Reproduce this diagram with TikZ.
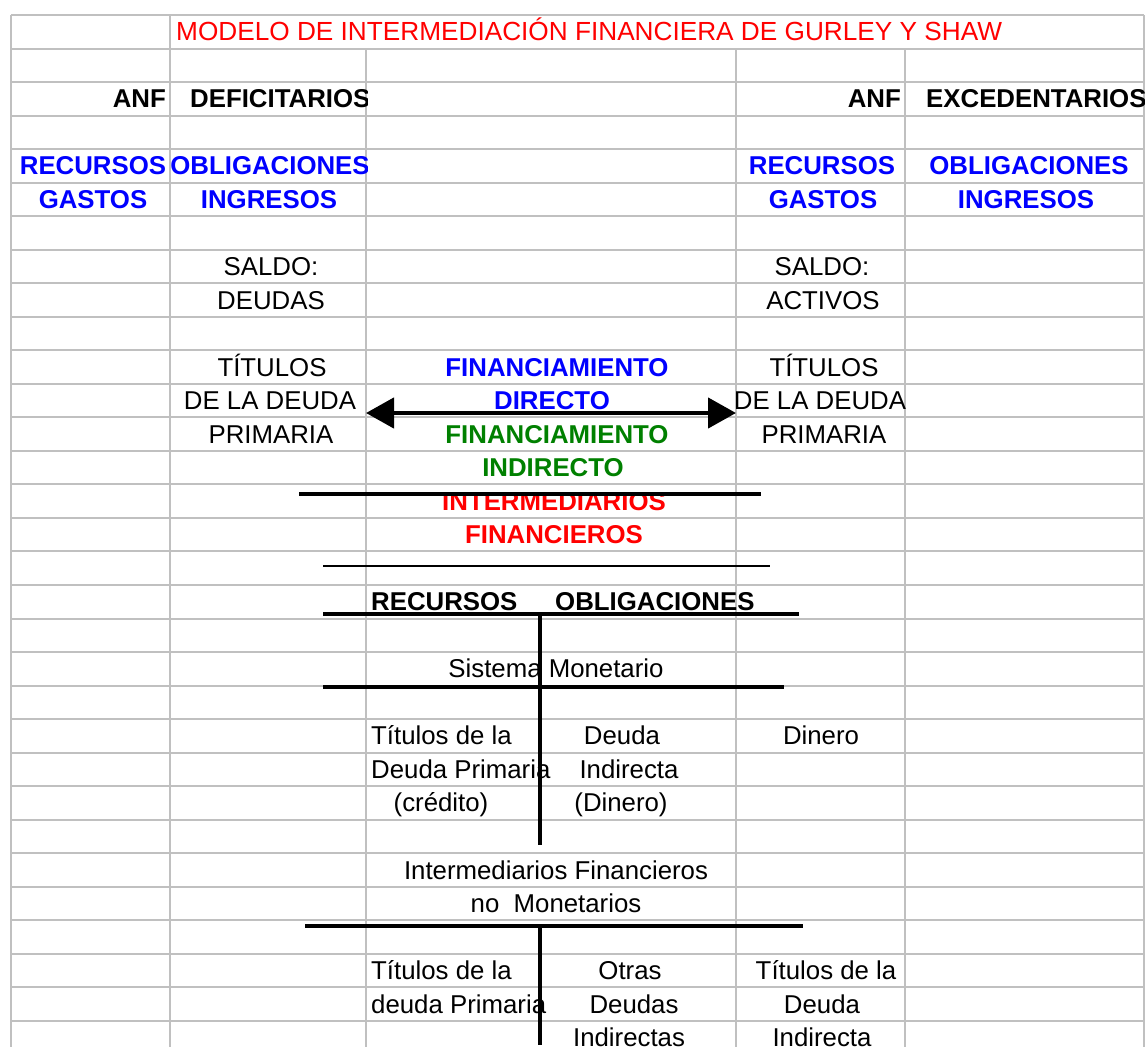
\documentclass[tikz,border=0pt]{standalone}
\usepackage{fontspec}
\setmainfont{Liberation Sans}
\usetikzlibrary{arrows.meta}
\definecolor{gridc}{RGB}{192,192,192}
\definecolor{xblue}{RGB}{0,0,255}
\definecolor{xred}{RGB}{255,0,0}
\definecolor{xgreen}{RGB}{0,128,0}
\newcommand\yb[1]{\fpeval{15+33.53*(#1+0.5)+9}}
\begin{document}
\begin{tikzpicture}[x=1pt,y=-1pt,
  reg/.style={inner sep=0pt,font=\fontsize{25.8}{30}\selectfont},
  bld/.style={inner sep=0pt,font=\fontsize{25.8}{30}\selectfont\bfseries},
  ttl/.style={inner sep=0pt,font=\fontsize{26.2}{30}\selectfont},
  ac/.style={anchor=base},
  al/.style={anchor=base west},
  ar/.style={anchor=base east},
  gridline/.style={draw=gridc,line width=2pt},
  heavy/.style={draw=black,line width=4pt},
  dblarrow/.style={draw=black,line width=4.5pt,{Triangle[length=28pt,width=30pt]}-{Triangle[length=28pt,width=30pt]}}
]
\useasboundingbox (0,0) rectangle (1145,1047);
\fill[white] (0,0) rectangle (1145,1047);
% grid
\foreach \i in {0,...,30} \draw[gridline] (11,{15+33.53*\i}) -- (1144,{15+33.53*\i});
\draw[gridline] (11,15) -- (11,1047);
\draw[gridline] (170,15) -- (170,1047);
\draw[gridline] (366,48.53) -- (366,1047);
\draw[gridline] (736,48.53) -- (736,1047);
\draw[gridline] (905,48.53) -- (905,1047);
\draw[gridline] (1144,15) -- (1144,1047);

% title
\node[ttl,al,text=xred] (title) at (176,\yb{0}) {MODELO DE INTERMEDIACIÓN FINANCIERA DE GURLEY Y SHAW};
% row 2
\node[bld,ar] (anf1) at (166,\yb{2}) {ANF};
\begin{scope}
\clip (170,48) rectangle (367,120);
\node[bld,al] (defi) at (190,\yb{2}) {DEFICITARIOS};
\end{scope}
\node[bld,ar] (anf2) at (901,\yb{2}) {ANF};
\begin{scope}
\clip (905,48) rectangle (1145,120);
\node[bld,al] (exce) at (926,\yb{2}) {EXCEDENTARIOS};
\end{scope}
% rows 4-5
\node[bld,ac,text=xblue] (rec1) at (93,\yb{4}) {RECURSOS};
\begin{scope}
\clip (170,149) rectangle (367,183);
\node[bld,ac,text=xblue] (obl1) at (270,\yb{4}) {OBLIGACIONES};
\end{scope}
\node[bld,ac,text=xblue] (rec2) at (822,\yb{4}) {RECURSOS};
\node[bld,ac,text=xblue] (obl2) at (1029,\yb{4}) {OBLIGACIONES};
\node[bld,ac,text=xblue] (gas1) at (93,\yb{5}) {GASTOS};
\node[bld,ac,text=xblue] (ing1) at (269,\yb{5}) {INGRESOS};
\node[bld,ac,text=xblue] (gas2) at (823,\yb{5}) {GASTOS};
\node[bld,ac,text=xblue] (ing2) at (1026,\yb{5}) {INGRESOS};
% rows 7-8
\node[reg,ac] (sal1) at (271,\yb{7}) {SALDO:};
\node[reg,ac] (sal2) at (822,\yb{7}) {SALDO:};
\node[reg,ac] (deud) at (271,\yb{8}) {DEUDAS};
\node[reg,ac] (acti) at (823,\yb{8}) {ACTIVOS};
% rows 10-15
\node[reg,ac] (tit1) at (272,\yb{10}) {TÍTULOS};
\node[bld,ac,text=xblue] (fin1) at (557,\yb{10}) {FINANCIAMIENTO};
\node[reg,ac] (tit2) at (824,\yb{10}) {TÍTULOS};
\node[reg,ac] (dld1) at (270,\yb{11}) {DE LA DEUDA};
\node[bld,ac,text=xblue] (dire) at (552,\yb{11}) {DIRECTO};
\begin{scope}
\clip (736,384) rectangle (905,418);
\node[reg,ac] (dld2) at (820,\yb{11}) {DE LA DEUDA};
\end{scope}
\node[reg,ac] (pri1) at (271,\yb{12}) {PRIMARIA};
\node[bld,ac,text=xgreen] (fin2) at (557,\yb{12}) {FINANCIAMIENTO};
\node[reg,ac] (pri2) at (824,\yb{12}) {PRIMARIA};
\node[bld,ac,text=xgreen] (indi) at (553,\yb{13}) {INDIRECTO};
\node[bld,ac,text=xred] (inte) at (554,\yb{14}) {INTERMEDIARIOS};
\node[bld,ac,text=xred] (fins) at (554,\yb{15}) {FINANCIEROS};
% row 17
\node[bld,al] (recb) at (371,\yb{17}) {RECURSOS};
\node[bld,al] (oblb) at (555,\yb{17}) {OBLIGACIONES};
% Sistema monetario
\node[reg,ac] (sism) at (556,\yb{19}) {Sistema Monetario};
\node[reg,al] (ta1) at (371,\yb{21}) {Títulos de la};
\node[reg,ac] (da1) at (622,\yb{21}) {Deuda};
\node[reg,ac] (din1) at (821,\yb{21}) {Dinero};
\node[reg,al] (ta2) at (371,\yb{22}) {Deuda Primaria};
\node[reg,ac] (da2) at (629,\yb{22}) {Indirecta};
\node[reg,ac] (ta3) at (441,\yb{23}) {(crédito)};
\node[reg,ac] (da3) at (621,\yb{23}) {(Dinero)};
% IFNM
\node[reg,ac] (ifn1) at (556,\yb{25}) {Intermediarios Financieros};
\node[reg,ac] (ifn2) at (556,\yb{26}) {no\ \ Monetarios};
\node[reg,al] (tb1) at (371,\yb{28}) {Títulos de la};
\node[reg,ac] (ob1) at (630,\yb{28}) {Otras};
\node[reg,ac] (tc1) at (826,\yb{28}) {Títulos de la};
\node[reg,al] (tb2) at (371,\yb{29}) {deuda Primaria};
\node[reg,ac] (ob2) at (634,\yb{29}) {Deudas};
\node[reg,ac] (tc2) at (822,\yb{29}) {Deuda};
\node[reg,ac] (ob3) at (629,\yb{30}) {Indirectas};
\node[reg,ac] (tc3) at (822,\yb{30}) {Indirecta};

% lines
\coordinate (aL) at (366,413);
\coordinate (aR) at (736,413);
\draw[dblarrow] (aL) -- (aR);
\coordinate (l1a) at (299,494); \coordinate (l1b) at (761,494);
\draw[heavy] (l1a) -- (l1b);
\coordinate (l2a) at (323,566); \coordinate (l2b) at (770,566);
\draw[draw=black,line width=2pt] (l2a) -- (l2b);
\coordinate (l3a) at (323,614); \coordinate (l3b) at (799,614);
\draw[heavy] (l3a) -- (l3b);
\coordinate (v1a) at (540,614); \coordinate (v1b) at (540,687);
\draw[heavy] (v1a) -- (v1b);
\coordinate (l4a) at (323,687); \coordinate (l4b) at (784,687);
\draw[heavy] (l4a) -- (l4b);
\coordinate (v2b) at (540,845);
\draw[heavy] (v1b) -- (v2b);
\coordinate (l5a) at (305,926); \coordinate (l5b) at (803,926);
\draw[heavy] (l5a) -- (l5b);
\coordinate (v3a) at (540,926); \coordinate (v3b) at (540,1045);
\draw[heavy] (v3a) -- (v3b);
\end{tikzpicture}
\end{document}
